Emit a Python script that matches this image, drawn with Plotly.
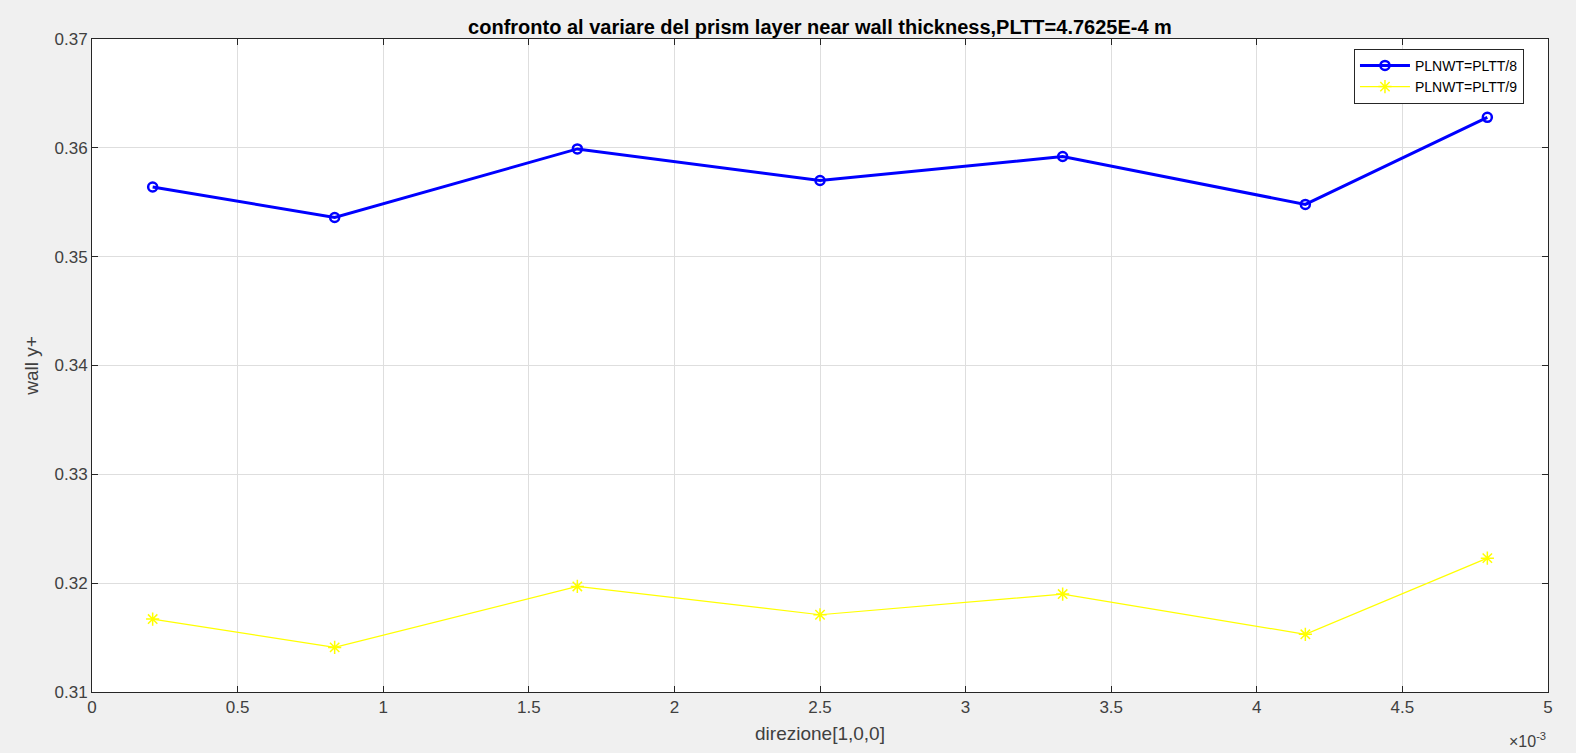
import plotly.graph_objects as go

# Positions along direction [1,0,0] (m)
x_pos = [0.0002083, 0.0008333, 0.0016667, 0.0025, 0.0033333, 0.0041667, 0.0047917]

# Wall y+ for the two near-wall thickness settings
yplus_plltt8 = [0.3564, 0.3536, 0.3599, 0.3570, 0.3592, 0.3548, 0.3628]
yplus_plltt9 = [0.3167, 0.3141, 0.3197, 0.3171, 0.3190, 0.3153, 0.3223]

x_tickvals = [0, 0.0005, 0.001, 0.0015, 0.002, 0.0025, 0.003, 0.0035, 0.004, 0.0045, 0.005]
x_ticktext = ["0", "0.5", "1", "1.5", "2", "2.5", "3", "3.5", "4", "4.5", "5"]
y_tickvals = [0.31, 0.32, 0.33, 0.34, 0.35, 0.36, 0.37]
y_ticktext = ["0.31", "0.32", "0.33", "0.34", "0.35", "0.36", "0.37"]

FONT = "Liberation Sans, Arial, Helvetica, sans-serif"
AXIS_GRAY = "#262626"
LABEL_GRAY = "#404040"

fig = go.Figure()
fig.add_trace(go.Scatter(
    x=x_pos, y=yplus_plltt8, mode="lines+markers", name="PLNWT=PLTT/8",
    line=dict(color="#0000ff", width=3),
    marker=dict(symbol="circle-open", size=9, color="#0000ff", line=dict(width=2.5)),
))
fig.add_trace(go.Scatter(
    x=x_pos, y=yplus_plltt9, mode="lines+markers", name="PLNWT=PLTT/9",
    line=dict(color="#ffff00", width=1.2),
    marker=dict(symbol="asterisk-open", size=11, color="#ffff00", line=dict(width=1.5, color="#ffff00")),
))

axis_common = dict(
    showgrid=True, gridcolor="#dedede", gridwidth=1,
    showline=True, linecolor=AXIS_GRAY, linewidth=1, mirror="ticks",
    ticks="inside", ticklen=6, tickcolor=AXIS_GRAY,
    tickfont=dict(family=FONT, size=17, color=LABEL_GRAY),
    zeroline=False,
)

fig.update_layout(
    width=1576, height=753,
    paper_bgcolor="#f0f0f0", plot_bgcolor="#ffffff",
    margin=dict(l=92, r=28, t=39, b=61),
    title=dict(
        text="<b>confronto al variare del prism layer near wall thickness,PLTT=4.7625E-4 m</b>",
        x=0.5, xanchor="center", xref="paper", y=1, yref="paper", yanchor="bottom", pad=dict(b=5),
        font=dict(family=FONT, size=20, color="#000000"),
    ),
    xaxis=dict(
        range=[0, 0.005], tickvals=x_tickvals, ticktext=x_ticktext,
        title=dict(text="direzione[1,0,0]", font=dict(family=FONT, size=19, color=LABEL_GRAY), standoff=10),
        **axis_common,
    ),
    yaxis=dict(
        range=[0.31, 0.37], tickvals=y_tickvals, ticktext=y_ticktext,
        title=dict(text="wall y+", font=dict(family=FONT, size=19, color=LABEL_GRAY), standoff=10),
        **axis_common,
    ),
    legend=dict(
        x=0.9835, y=0.985, xanchor="right", yanchor="top",
        bgcolor="#ffffff", bordercolor=AXIS_GRAY, borderwidth=1,
        font=dict(family=FONT, size=14, color="#000000"),
        tracegroupgap=0, itemwidth=50,
    ),
    showlegend=True,
    annotations=[dict(
        text="×10<sup>-3</sup>", xref="paper", yref="paper", x=1.0, y=-0.055,
        xanchor="right", yanchor="top", showarrow=False,
        font=dict(family=FONT, size=16, color=LABEL_GRAY),
    )],
)

fig.write_html("out.html")
